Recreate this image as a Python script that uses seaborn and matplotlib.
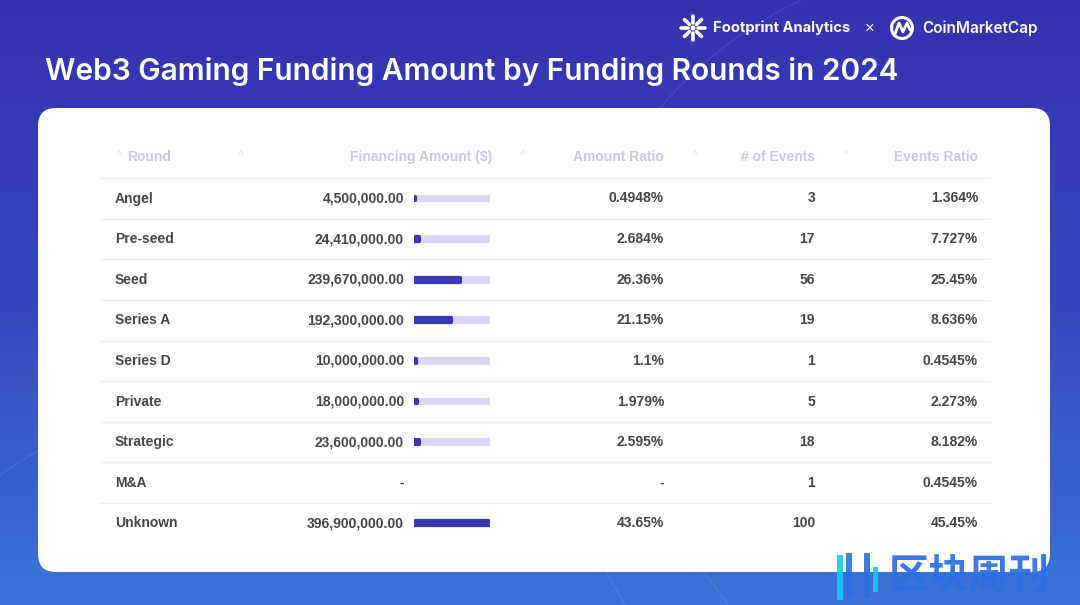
import numpy as np
import pandas as pd
import matplotlib
matplotlib.use("Agg")
import matplotlib.pyplot as plt
import seaborn as sns
from matplotlib.patches import FancyBboxPatch, Circle, Rectangle
from matplotlib.colors import LinearSegmentedColormap

sns.set_theme(style="white")
plt.rcParams['font.family'] = ['Liberation Sans', 'DejaVu Sans']

rounds = ["Angel", "Pre-seed", "Seed", "Series A", "Series D", "Private", "Strategic", "M&A", "Unknown"]
amounts = [4.5e6, 24.41e6, 239.67e6, 192.3e6, 10.0e6, 18.0e6, 23.6e6, np.nan, 396.9e6]
amount_ratio = [0.4948, 2.684, 26.36, 21.15, 1.1, 1.979, 2.595, np.nan, 43.65]
events = [3, 17, 56, 19, 1, 5, 18, 1, 100]
events_ratio = [1.364, 7.727, 25.45, 8.636, 0.4545, 2.273, 8.182, 0.4545, 45.45]
headers = ["Round", "Financing Amount ($)", "Amount Ratio", "# of Events", "Events Ratio"]

df = pd.DataFrame({"round": rounds, "amount": amounts})
amt_max = np.nanmax(amounts)
df["track"] = np.where(df["amount"].isna(), np.nan, amt_max)

W, H = 1080, 605
fig = plt.figure(figsize=(W / 100, H / 100), dpi=100)
ax = fig.add_axes([0, 0, 1, 1])
ax.set_xlim(0, W)
ax.set_ylim(H, 0)
ax.axis("off")

# background gradient
bg = LinearSegmentedColormap.from_list("bg", ["#3432b1", "#3647bd", "#3b75d6"])
grad = np.linspace(0, 1, 256).reshape(-1, 1)
ax.imshow(grad, cmap=bg, extent=[0, W, H, 0], aspect="auto", zorder=0)
for cx, cy, r in [(980, 380, 420), (300, 900, 520)]:
    ax.add_patch(Circle((cx, cy), r, fill=False, ec="white", lw=1, alpha=0.08, zorder=1))

# white card
ax.add_patch(FancyBboxPatch((38 + 18, 108 + 18), 1012 - 36, 464 - 36,
                            boxstyle="round,pad=18", fc="white", ec="none", zorder=2))

# title
ax.text(45, 72, "Web3 Gaming Funding Amount by Funding Rounds in 2024", color="white",
        fontsize=21.5, fontweight="semibold", family=["Inter", "DejaVu Sans"], va="center", zorder=3)

# top-right logos
lx, ly = 693, 28
for a in np.linspace(0, 2 * np.pi, 9)[:-1]:
    ax.plot([lx + 5 * np.cos(a), lx + 12 * np.cos(a)], [ly + 5 * np.sin(a), ly + 12 * np.sin(a)],
            color="white", lw=2.6, solid_capstyle="round", zorder=3)
ax.add_patch(Circle((lx, ly), 2.5, fc="white", ec="none", zorder=3))
ax.text(713, 28, "Footprint Analytics", color="white", fontsize=10.6, fontweight="bold",
        family=["Inter", "DejaVu Sans"], va="center", zorder=3)
ax.text(870, 28, "×", color="white", fontsize=12, ha="center", va="center", zorder=3)
ax.add_patch(Circle((902, 28), 10.5, fill=False, ec="white", lw=2.2, zorder=3))
ax.plot([895, 899, 903, 907, 910], [34, 23, 32, 23, 30], color="white", lw=2, zorder=3)
ax.text(922, 28, "CoinMarketCap", color="white", fontsize=11, fontweight="semibold",
        family=["Inter", "DejaVu Sans"], va="center", zorder=3)

# table layout
row0, step = 198.5, 40.6
head_y = 157
x_round = 115
x_amt = 404
x_bar0, x_bar1 = 412, 492
x_ratio = 664
x_ev = 815
x_evr = 978
txt_col = "#454545"
head_col = "#c6c8e6"

head_pos = [(127, "left"), (492, "right"), (664, "right"), (815, "right"), (978, "right")]
for (hx, ha), label in zip(head_pos, headers):
    ax.text(hx, head_y, label, color=head_col, fontsize=10, fontweight="bold",
            ha=ha, va="center", zorder=3)
for cx in [119, 241, 523, 695, 846]:
    ax.text(cx, head_y - 1, "^", color="#e4e5f2", fontsize=9, ha="center", va="center", zorder=3)

for i in range(len(rounds)):
    yl = row0 + i * step - step / 2
    ax.plot([100, 990], [yl, yl], color="#f0f0f4", lw=1, zorder=3)

for i, r in enumerate(rounds):
    y = row0 + i * step
    amt = "-" if np.isnan(amounts[i]) else f"{amounts[i]:,.2f}"
    ratio = "-" if np.isnan(amount_ratio[i]) else f"{amount_ratio[i]:.4g}%"
    cells = [(x_round, r, "left"), (x_amt, amt, "right"), (x_ratio, ratio, "right"),
             (x_ev, str(events[i]), "right"), (x_evr, f"{events_ratio[i]:.4g}%", "right")]
    for cx, s, ha in cells:
        ax.text(cx, y, s, color=txt_col, fontsize=10, fontweight="bold",
                ha=ha, va="center", zorder=3)

# inline bars
top = row0 - step / 2
bottom = row0 + (len(rounds) - 0.5) * step
bax = fig.add_axes([(x_bar0 + 2) / W, 1 - bottom / H, (x_bar1 - x_bar0 - 4) / W, (bottom - top) / H])
sns.barplot(data=df, x="track", y="round", color="#d9d7f3", width=0.095, ax=bax,
            saturation=1, linewidth=0)
sns.barplot(data=df, x="amount", y="round", color="#3a35b4", width=0.095, ax=bax,
            saturation=1, linewidth=0)
for p in bax.patches:
    p.set_edgecolor(p.get_facecolor())
    p.set_linewidth(3)
    p.set_joinstyle("round")
bax.set_xlim(0, amt_max)
bax.set_ylim(len(rounds) - 0.5, -0.5)
bax.axis("off")
bax.patch.set_alpha(0)

# watermark
ax.add_patch(Rectangle((837, 555), 6, 45, fc="#19c8f0", ec="none", alpha=0.9, zorder=4))
ax.add_patch(Rectangle((846, 553), 6, 45, fc="#2a6fe3", ec="none", alpha=0.9, zorder=4))
ax.add_patch(Rectangle((864, 553), 6, 45, fc="#2a6fe3", ec="none", alpha=0.9, zorder=4))
ax.add_patch(Rectangle((873, 567), 5, 25, fc="#19c8f0", ec="none", alpha=0.9, zorder=4))
ax.text(969, 577, "区块周刊", color="#2a6fe3", fontsize=29, fontweight="bold", alpha=0.92,
        family=["Noto Sans CJK SC", "DejaVu Sans"], ha="center", va="center", zorder=4)

fig.savefig("out.png", dpi=100)
